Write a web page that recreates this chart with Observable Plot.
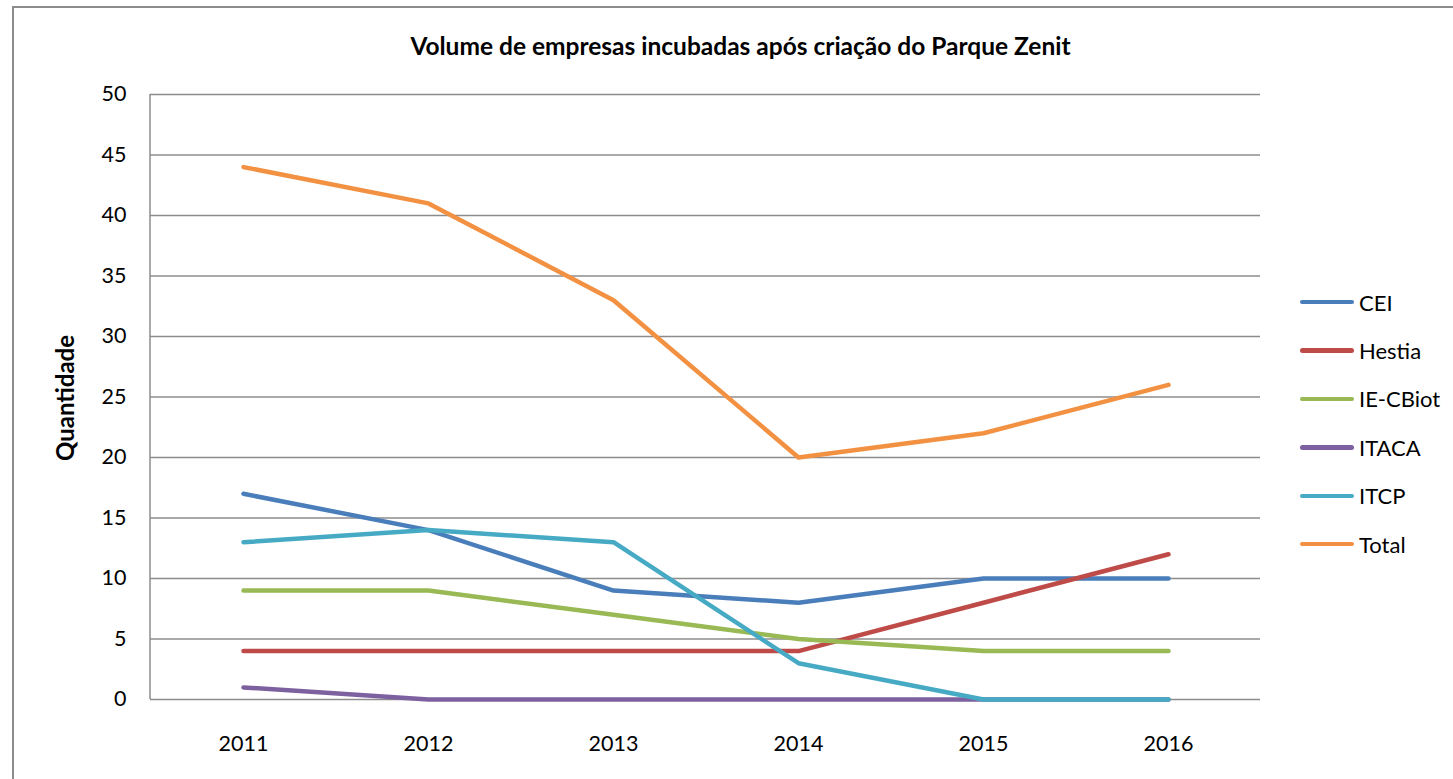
<!DOCTYPE html>
<html>
<head>
<meta charset="utf-8">
<script src="https://cdn.jsdelivr.net/npm/d3@7"></script>
<script src="https://cdn.jsdelivr.net/npm/@observablehq/plot@0.6"></script>
<style>
  html, body { margin: 0; padding: 0; background: #fff; overflow: hidden; }
  #wrap { position: relative; width: 1453px; height: 779px; font-family: Lato, "Open Sans", sans-serif; color: #000; }
  #frame { position: absolute; left: 12px; top: 6px; width: 1500px; height: 900px; border: 2px solid #8c8c8c; box-sizing: border-box; }
  #title { position: absolute; left: 0; width: 1481px; top: 31px; text-align: center; font-weight: bold; font-size: 24.5px; line-height: 30px; }
  #ylabel { position: absolute; left: 64px; top: 398px; transform: translate(-50%, -50%) rotate(-90deg); font-weight: bold; font-size: 24px; white-space: nowrap; }
  #chart { position: absolute; left: 0; top: 80px; }
  #legend { position: absolute; left: 1300px; top: 278px; font-size: 22px; }
  .item { height: 48.4px; display: flex; align-items: center; }
  .sw { width: 54px; height: 4.5px; border-radius: 2.5px; margin-right: 5px; }
</style>
</head>
<body>
<div id="wrap">
  <div id="frame"></div>
  <div id="title">Volume de empresas incubadas após criação do Parque Zenit</div>
  <div id="ylabel">Quantidade</div>
  <div id="chart"></div>
  <div id="legend"></div>
</div>
<script>
const years = ["2011", "2012", "2013", "2014", "2015", "2016"];
const seriesNames = ["CEI", "Hestia", "IE-CBiot", "ITACA", "ITCP", "Total"];
const colors = ["#4A7EBB", "#BE4B48", "#98B954", "#7D60A0", "#46AAC5", "#F39143"];
const CEI = [17, 14, 9, 8, 10, 10];
const Hestia = [4, 4, 4, 4, 8, 12];
const IECBiot = [9, 9, 7, 5, 4, 4];
const ITACA = [1, 0, 0, 0, 0, 0];
const ITCP = [13, 14, 13, 3, 0, 0];
const Total = [44, 41, 33, 20, 22, 26];
const yTicks = [0, 5, 10, 15, 20, 25, 30, 35, 40, 45, 50];

const valuesBySeries = [CEI, Hestia, IECBiot, ITACA, ITCP, Total];
const rows = [];
seriesNames.forEach((s, i) => {
  years.forEach((y, j) => rows.push({ series: s, year: y, value: valuesBySeries[i][j] }));
});

const leftLine = (index, scales, values, dimensions) => {
  const x = dimensions.marginLeft;
  const g = d3.create("svg:line")
    .attr("x1", x).attr("x2", x)
    .attr("y1", dimensions.marginTop)
    .attr("y2", dimensions.height - dimensions.marginBottom)
    .attr("stroke", "#8c8c8c")
    .attr("stroke-width", 1.5);
  return g.node();
};

const chart = Plot.plot({
  width: 1280,
  height: 699,
  marginLeft: 150,
  marginRight: 20,
  marginTop: 14,
  marginBottom: 80,
  style: { fontFamily: "Lato, 'Open Sans', sans-serif", fontSize: "21px", color: "#000", background: "transparent" },
  x: { type: "point", domain: years, padding: 0.5, label: null },
  y: { domain: [0, 50], label: null },
  color: { domain: seriesNames, range: colors },
  marks: [
    Plot.gridY(yTicks, { stroke: "#8c8c8c", strokeOpacity: 1, strokeWidth: 1.3 }),
    leftLine,
    Plot.axisY(yTicks, { tickSize: 0, tickPadding: 24, label: null, fontSize: 21.5 }),
    Plot.axisX(years, { tickSize: 0, tickPadding: 36, label: null, fontSize: 21.5 }),
    Plot.line(rows, { x: "year", y: "value", z: "series", stroke: "series", strokeWidth: 4.5, strokeLinecap: "round", strokeLinejoin: "round" })
  ]
});
document.getElementById("chart").appendChild(chart);

const legend = document.getElementById("legend");
seriesNames.forEach((s, i) => {
  const item = document.createElement("div");
  item.className = "item";
  const sw = document.createElement("div");
  sw.className = "sw";
  sw.style.background = colors[i];
  const t = document.createElement("span");
  t.textContent = s;
  item.appendChild(sw);
  item.appendChild(t);
  legend.appendChild(item);
});
</script>
</body>
</html>
